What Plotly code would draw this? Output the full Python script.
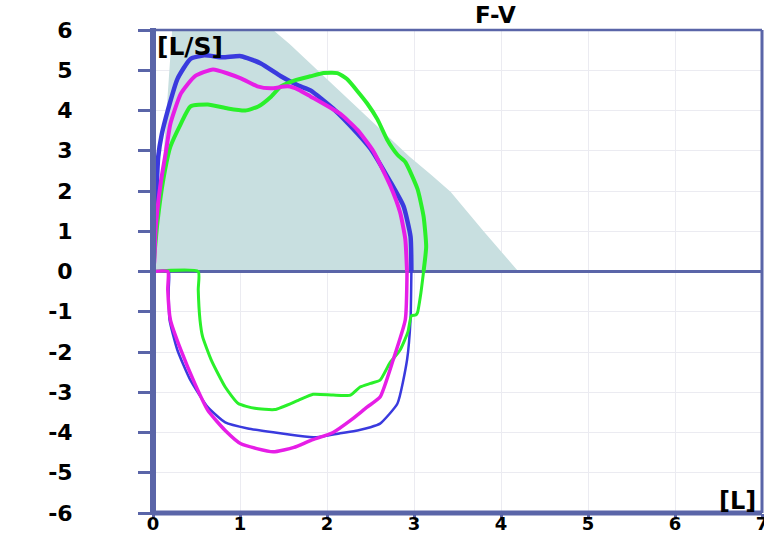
import plotly.graph_objects as go

# ---------------- data ----------------
X_RANGE = [0, 7]
Y_RANGE = [-6, 6]
X_TICKS = [0, 1, 2, 3, 4, 5, 6, 7]
X_TICK_LABELS = ["0", "1", "2", "3", "4", "5", "6", "7"]
Y_TICKS = [-6, -5, -4, -3, -2, -1, 0, 1, 2, 3, 4, 5, 6]
Y_TICK_LABELS = ["-6", "-5", "-4", "-3", "-2", "-1", "0", "1", "2", "3", "4", "5", "6"]

# predicted (normal) area
PRED_VOL = [0, 0.12, 0.22, 1.38, 1.57, 2.95, 3.2, 3.42, 3.8, 4.2, 0]
PRED_FLOW = [0, 2.85, 6.0, 6.0, 5.65, 2.85, 2.4, 1.98, 1.0, 0, 0]

# blue loop
BLUE_EXP_VOL = [0, 0.02, 0.04, 0.06, 0.1, 0.17, 0.28, 0.43, 0.59, 0.8, 1.01, 1.24, 1.47,
                1.67, 1.81, 2.07, 2.35, 2.5, 2.73, 2.88, 2.96, 2.97]
BLUE_EXP_FLOW = [0, 1.0, 2.0, 2.85, 3.4, 4.0, 4.78, 5.28, 5.37, 5.32, 5.35, 5.17, 4.85,
                 4.62, 4.5, 4.05, 3.43, 3.05, 2.22, 1.62, 0.87, 0]
BLUE_INS_VOL = [2.97, 2.96, 2.92, 2.81, 2.61, 2.5, 2.35, 2.15, 1.88, 1.67, 1.09, 0.83,
                0.63, 0.43, 0.28, 0.19, 0.18, 0.18, 0]
BLUE_INS_FLOW = [0, -1.2, -2.2, -3.28, -3.78, -3.87, -3.95, -4.02, -4.12, -4.08, -3.9,
                 -3.75, -3.37, -2.7, -1.95, -1.2, -0.45, 0, 0]

# magenta loop
MAG_EXP_VOL = [0, 0.015, 0.03, 0.09, 0.15, 0.2, 0.32, 0.48, 0.69, 1.01, 1.2, 1.35, 1.55,
               1.67, 1.81, 2.15, 2.35, 2.53, 2.73, 2.84, 2.9, 2.92]
MAG_EXP_FLOW = [0, 0.25, 1.05, 2.22, 3.0, 3.67, 4.42, 4.85, 5.02, 4.8, 4.6, 4.55, 4.6,
                4.52, 4.35, 3.92, 3.52, 3.0, 2.12, 1.47, 0.8, 0]
MAG_INS_VOL = [2.92, 2.9, 2.76, 2.61, 2.46, 2.27, 2.07, 1.81, 1.62, 1.38, 1.01, 0.83,
               0.63, 0.48, 0.32, 0.2, 0.17, 0.17, 0]
MAG_INS_FLOW = [0, -1.2, -2.2, -3.12, -3.37, -3.7, -4.0, -4.2, -4.37, -4.48, -4.28,
                -3.95, -3.45, -2.78, -1.95, -1.2, -0.45, 0, 0]

# green loop
GRN_EXP_VOL = [0, 0.05, 0.12, 0.2, 0.32, 0.43, 0.63, 0.86, 1.06, 1.21, 1.36, 1.47, 1.63,
               1.81, 1.96, 2.12, 2.23, 2.35, 2.46, 2.58, 2.69, 2.81, 2.9, 3.04, 3.11,
               3.14, 3.11]
GRN_EXP_FLOW = [0, 1.2, 2.3, 3.1, 3.67, 4.1, 4.15, 4.05, 4.0, 4.1, 4.35, 4.6, 4.75,
                4.85, 4.93, 4.93, 4.78, 4.48, 4.18, 3.78, 3.28, 2.9, 2.72, 2.05, 1.37,
                0.62, 0]
GRN_INS_VOL = [3.11, 3.08, 3.04, 3.02, 2.97, 2.93, 2.84, 2.72, 2.61, 2.5, 2.38, 2.27,
               2.07, 1.84, 1.67, 1.4, 1.17, 0.98, 0.83, 0.67, 0.57, 0.54, 0.52, 0.52, 0]
GRN_INS_FLOW = [0, -0.52, -1.02, -1.08, -1.1, -1.5, -1.95, -2.28, -2.7, -2.78, -2.87,
                -3.07, -3.07, -3.05, -3.2, -3.43, -3.4, -3.28, -2.87, -2.2, -1.62, -1.2,
                -0.45, 0, 0]

# ---------------- style ----------------
AXIS_COLOR = "#5a65a8"
GRID_COLOR = "#ebebf1"
SHADE_COLOR = "#c8dfe0"
BLUE = "#3a3ade"
MAGENTA = "#e61ee6"
GREEN = "#2af02a"
FONT = "DejaVu Sans"

fig = go.Figure()

fig.add_trace(go.Scatter(x=PRED_VOL, y=PRED_FLOW, mode="lines", fill="toself",
                         fillcolor=SHADE_COLOR, line=dict(width=0, color=SHADE_COLOR),
                         hoverinfo="skip", showlegend=False))
# zero-flow reference line across the axis range
fig.add_trace(go.Scatter(x=X_RANGE, y=[0, 0], mode="lines",
                         line=dict(color=AXIS_COLOR, width=3),
                         hoverinfo="skip", showlegend=False))

curves = [
    (BLUE_EXP_VOL, BLUE_EXP_FLOW, BLUE, 4.5),
    (BLUE_INS_VOL, BLUE_INS_FLOW, BLUE, 2.5),
    (GRN_EXP_VOL, GRN_EXP_FLOW, GREEN, 4),
    (GRN_INS_VOL, GRN_INS_FLOW, GREEN, 3),
    (MAG_EXP_VOL, MAG_EXP_FLOW, MAGENTA, 4),
    (MAG_INS_VOL, MAG_INS_FLOW, MAGENTA, 3.5),
]
for xv, yv, col, w in curves:
    fig.add_trace(go.Scatter(x=xv, y=yv, mode="lines",
                             line=dict(color=col, width=w, shape="spline", smoothing=0.5),
                             hoverinfo="skip", showlegend=False))

ytick_font = dict(family=FONT, size=22, color="black", weight="bold")
xtick_font = dict(family=FONT, size=18, color="black", weight="bold")

fig.update_layout(
    width=764, height=535,
    margin=dict(l=153, r=2, t=30, b=22),
    paper_bgcolor="white", plot_bgcolor="white",
    showlegend=False,
    xaxis=dict(range=X_RANGE, tickmode="array", tickvals=X_TICKS, ticktext=X_TICK_LABELS,
               showgrid=True, gridcolor=GRID_COLOR, gridwidth=1, zeroline=False,
               showline=False, ticks="outside", ticklen=4, tickwidth=3,
               tickcolor=AXIS_COLOR, tickfont=xtick_font, ticklabelstandoff=-10,
               ticklabeloverflow="allow", automargin=False),
    yaxis=dict(range=Y_RANGE, tickmode="array", tickvals=Y_TICKS, ticktext=Y_TICK_LABELS,
               showgrid=True, gridcolor=GRID_COLOR, gridwidth=1, zeroline=False,
               showline=False, ticks="outside", ticklen=14, tickwidth=3,
               tickcolor=AXIS_COLOR, tickfont=ytick_font, ticklabelstandoff=61,
               automargin=False),
    shapes=[
        dict(type="line", xref="paper", yref="paper", x0=0, x1=0, y0=-0.004, y1=1.004,
             line=dict(color=AXIS_COLOR, width=6), layer="above"),
        dict(type="line", xref="paper", yref="paper", x0=0, x1=1, y0=0, y1=0,
             line=dict(color=AXIS_COLOR, width=5), layer="above"),
        dict(type="line", xref="paper", yref="paper", x0=0, x1=1, y0=1, y1=1,
             line=dict(color=AXIS_COLOR, width=2.5), layer="above"),
        dict(type="line", xref="paper", yref="paper", x0=1, x1=1, y0=0, y1=1,
             line=dict(color=AXIS_COLOR, width=3), layer="above"),
    ],
    annotations=[
        dict(text="F-V", xref="paper", yref="paper", x=0.5616, y=1, yshift=15,
             xanchor="center", yanchor="middle", showarrow=False,
             font=dict(family=FONT, size=23, color="black", weight="bold")),
        dict(text="[L/S]", xref="paper", yref="paper", x=0, y=1, xshift=2, yshift=0,
             xanchor="left", yanchor="top", showarrow=False,
             font=dict(family=FONT, size=25, color="black", weight="bold")),
        dict(text="[L]", xref="paper", yref="paper", x=1, y=0, xshift=-4, yshift=-4,
             xanchor="right", yanchor="bottom", showarrow=False,
             font=dict(family=FONT, size=24, color="black", weight="bold")),
    ],
)

fig.write_html("out.html")
